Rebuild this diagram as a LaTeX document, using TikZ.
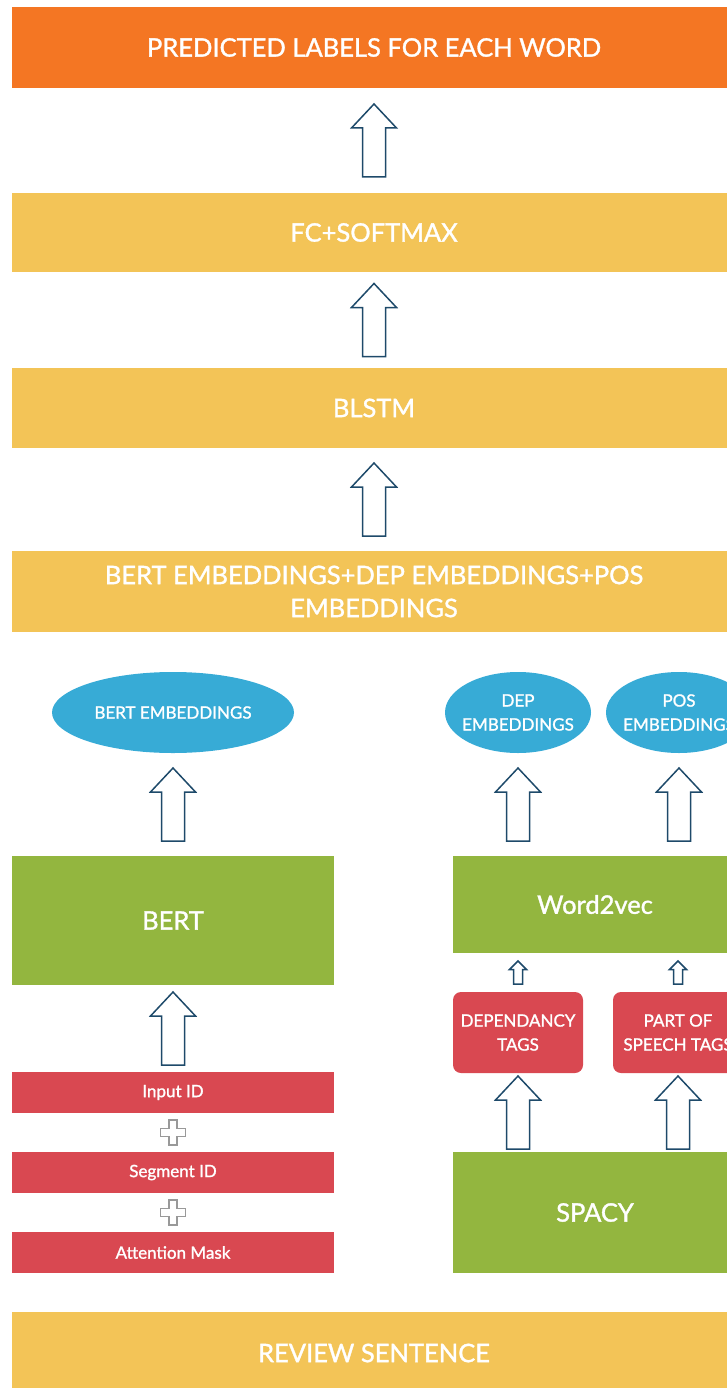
\documentclass[tikz,border=0pt]{standalone}
\usepackage{fontspec}
\setmainfont{Lato}[BoldFont=Lato, BoldFeatures={FakeBold=1.3}]
\usetikzlibrary{calc,shapes.geometric}
\definecolor{orangebox}{HTML}{F47623}
\definecolor{yellowbox}{HTML}{F3C457}
\definecolor{bluebox}{HTML}{37ABD6}
\definecolor{greenbox}{HTML}{93B63F}
\definecolor{redbox}{HTML}{D94851}
\definecolor{arrowblue}{HTML}{1E4A6A}
\tikzset{
  box/.style={rectangle, fill=#1, text=white, inner sep=0pt, align=center},
  oval/.style={box=bluebox, ellipse, inner xsep=-16pt, minimum height=81},
  bigtext/.style={font=\fontsize{25.5}{33}\selectfont\bfseries},
  smalltext/.style={font=\fontsize{17}{24}\selectfont\bfseries},
  hollow/.style n args={4}{draw=arrowblue, line width=1.5pt, line join=miter, to path={
    let \p1=($(\tikztostart)!0.5!(\tikztotarget)$) in
    (\x1-#4/2,\y1-#1/2) -- (\x1+#4/2,\y1-#1/2) -- (\x1+#4/2,\y1+#1/2-#2) -- (\x1+#3/2,\y1+#1/2-#2)
    -- (\x1,\y1+#1/2) -- (\x1-#3/2,\y1+#1/2-#2) -- (\x1-#4/2,\y1+#1/2-#2) -- cycle}},
  bigarrow/.style={hollow={73pt}{24pt}{45pt}{23pt}},
  smallarrow/.style={hollow={23pt}{8.5pt}{17pt}{9pt}},
  plusline/.style={draw=gray!80, line width=1.2pt}
}
\begin{document}
\begin{tikzpicture}[x=1pt, y=-1pt]
        \useasboundingbox (0,0) rectangle (727,1388);
        \node[box=orangebox, bigtext, minimum width=724, minimum height=81] (n1) at (374,47.5) {PREDICTED LABELS FOR EACH WORD};
        \node[box=yellowbox, bigtext, minimum width=724, minimum height=79] (n2) at (374,232.5) {FC+SOFTMAX};
        \node[box=yellowbox, bigtext, minimum width=724, minimum height=80] (n3) at (374,408) {BLSTM};
        \node[box=yellowbox, bigtext, minimum width=724, minimum height=81] (n4) at (374,591.5) {BERT EMBEDDINGS+DEP EMBEDDINGS+POS\\EMBEDDINGS};

        \node[oval, smalltext, minimum width=242] (n5) at (173,712.5) {BERT EMBEDDINGS};
        \node[oval, smalltext, minimum width=146] (n6) at (518,712.5) {DEP\\EMBEDDINGS};
        \node[oval, smalltext, minimum width=146] (n7) at (679,712.5) {POS\\EMBEDDINGS};

        \node[box=greenbox, bigtext, minimum width=322, minimum height=129] (n8) at (173,920.5) {BERT};
        \node[box=greenbox, bigtext, minimum width=284, minimum height=97] (n9) at (595,904.5) {Word2vec};

        \node[box=redbox, smalltext, rounded corners=8pt, minimum width=130, minimum height=81] (n10) at (518,1032.5) {DEPENDANCY\\TAGS};
        \node[box=redbox, smalltext, rounded corners=8pt, minimum width=130, minimum height=81] (n11) at (678,1032.5) {PART OF\\SPEECH TAGS};

        \node[box=redbox, smalltext, minimum width=322, minimum height=41] (n12) at (173,1092.5) {Input ID};
        \node[box=redbox, smalltext, minimum width=322, minimum height=41] (n13) at (173,1172.5) {Segment ID};
        \node[box=redbox, smalltext, minimum width=322, minimum height=41] (n14) at (173,1252.5) {Attention Mask};

        \node[box=greenbox, bigtext, minimum width=284, minimum height=121] (n15) at (595,1212.5) {SPACY};
        \node[box=yellowbox, bigtext, minimum width=724, minimum height=82] (n16) at (374,1353) {REVIEW SENTENCE};

        \draw[bigarrow] (n2.north) to (n1.south);
        \draw[bigarrow] (n3.north) to (n2.south);
        \draw[bigarrow] (n4.north) to (n3.south);
        \draw[bigarrow] (n8.north) to (n5.south);
        \draw[bigarrow] (n6.south |- n9.north) to (n6.south);
        \draw[bigarrow] (n7.south |- n9.north) to (n7.south);
        \draw[smallarrow] (n10.north) to (n10.north |- n9.south);
        \draw[smallarrow] (n11.north) to (n11.north |- n9.south);
        \draw[bigarrow] (n12.north) to (n8.south);
        \draw[bigarrow] (n10.south |- n15.north) to (n10.south);
        \draw[bigarrow] (n11.south |- n15.north) to (n11.south);

        \foreach \a/\b in {n12/n13, n13/n14}
          \draw[plusline] ($(\a.south)!0.5!(\b.north)$) ++(-4,-12.5) -- ++(8,0) -- ++(0,8.5) -- ++(8.5,0) -- ++(0,8)
            -- ++(-8.5,0) -- ++(0,8.5) -- ++(-8,0) -- ++(0,-8.5) -- ++(-8.5,0) -- ++(0,-8) -- ++(8.5,0) -- cycle;
\end{tikzpicture}
\end{document}
